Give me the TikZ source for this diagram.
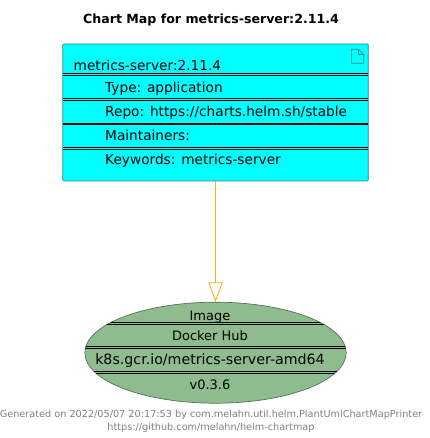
\documentclass[tikz,border=0pt]{standalone}
\usepackage{fontspec}
\setmainfont{DejaVu Sans}
\usepackage{xcolor}
\usetikzlibrary{arrows.meta, shapes.geometric}

\definecolor{chartFill}{HTML}{00FFFF}
\definecolor{chartBorder}{HTML}{3F7F8C}
\definecolor{imageFill}{HTML}{8FBC8F}
\definecolor{imageBorder}{HTML}{56705A}
\definecolor{noteBorder}{HTML}{108A90}
\definecolor{linkColor}{HTML}{F5A81C}

\tikzset{
	field/.style={anchor=base west, inner sep=0pt, font=\fontsize{13.7}{15}\selectfont},
	imageField/.style={anchor=base, inner sep=0pt, font=\fontsize{13}{15}\selectfont},
	footer/.style={anchor=base, inner sep=0pt, text=gray, font=\fontsize{9.7}{11}\selectfont},
	separator/.style={black, line width=0.5pt}
}

\begin{document}
\begin{tikzpicture}[x=1pt, y=-1pt]
	\def\xText{105};
	\def\xImage{210};

	\newcommand{\drawSeparator}[3]
	{
		\draw [separator] (#1,#3) -- (#2,#3);
		\draw [separator] (#1,#3+1.5) -- (#2,#3+1.5);
	}

	\useasboundingbox (0,0) rectangle (429,438);

	\node [anchor=base, inner sep=0pt, font=\bfseries\fontsize{12.6}{15}\selectfont] (title) at (211,24) {Chart Map for metrics-server:2.11.4};

	\node [draw=chartBorder, fill=chartFill, rounded corners=1pt, line width=0.7pt, minimum width=305.5pt, minimum height=137pt, inner sep=0pt] (chart) at (215.5,112.5) {};
	\node [draw=imageBorder, fill=imageFill, ellipse, line width=0.7pt, minimum width=261.4pt, minimum height=101pt, inner sep=0pt] (image) at (215.5,352.7) {};

	\draw [linkColor, line width=0.5pt, -{Triangle[open, fill=white, length=19.5pt, width=14.5pt, line width=0.8pt]}] (chart.south) -- (image.north);

	% note icon
	\draw [noteBorder, line width=0.6pt] (351.3,49.3) -- (358.5,49.3) -- (363.7,54.5) -- (363.7,63.3) -- (351.3,63.3) -- cycle;
	\draw [noteBorder, line width=0.6pt] (358.5,49.3) -- (358.5,54.5) -- (363.7,54.5);

	\begin{scope}
		\drawSeparator{62.5}{368.3}{73.6}
		\drawSeparator{62.5}{368.3}{98.4}
		\drawSeparator{62.5}{368.3}{123}
		\drawSeparator{62.5}{368.3}{147.5}
	\end{scope}

	\begin{scope}
		\clip (215.5,352.7) ellipse (130.7pt and 50.5pt);
		\drawSeparator{80}{350}{322.7}
		\drawSeparator{80}{350}{346.7}
		\drawSeparator{80}{350}{371.7}
	\end{scope}

	\node [field] (chartName) at (73.5,70.7) {metrics-server:2.11.4};
	\node [field] (chartType) at (\xText,92.4) {Type: application};
	\node [field] (chartRepo) at (\xText,116.4) {Repo: https://charts.helm.sh/stable};
	\node [field] (chartMaintainers) at (\xText,140.4) {Maintainers:};
	\node [field] (chartKeywords) at (\xText,164.7) {Keywords: metrics-server};

	\node [imageField] (imageKind) at (\xImage,320) {Image};
	\node [imageField] (imageRepo) at (\xImage,340) {Docker Hub};
	\node [imageField, font=\fontsize{14.2}{16}\selectfont] (imageName) at (\xImage,364.5) {k8s.gcr.io/metrics-server-amd64};
	\node [imageField] (imageTag) at (\xImage,389) {v0.3.6};

	\node [footer] (generated) at (211,417.3) {Generated on 2022/05/07 20:17:53 by com.melahn.util.helm.PlantUmlChartMapPrinter};
	\node [footer] (source) at (211,430) {https://github.com/melahn/helm-chartmap};
\end{tikzpicture}
\end{document}
